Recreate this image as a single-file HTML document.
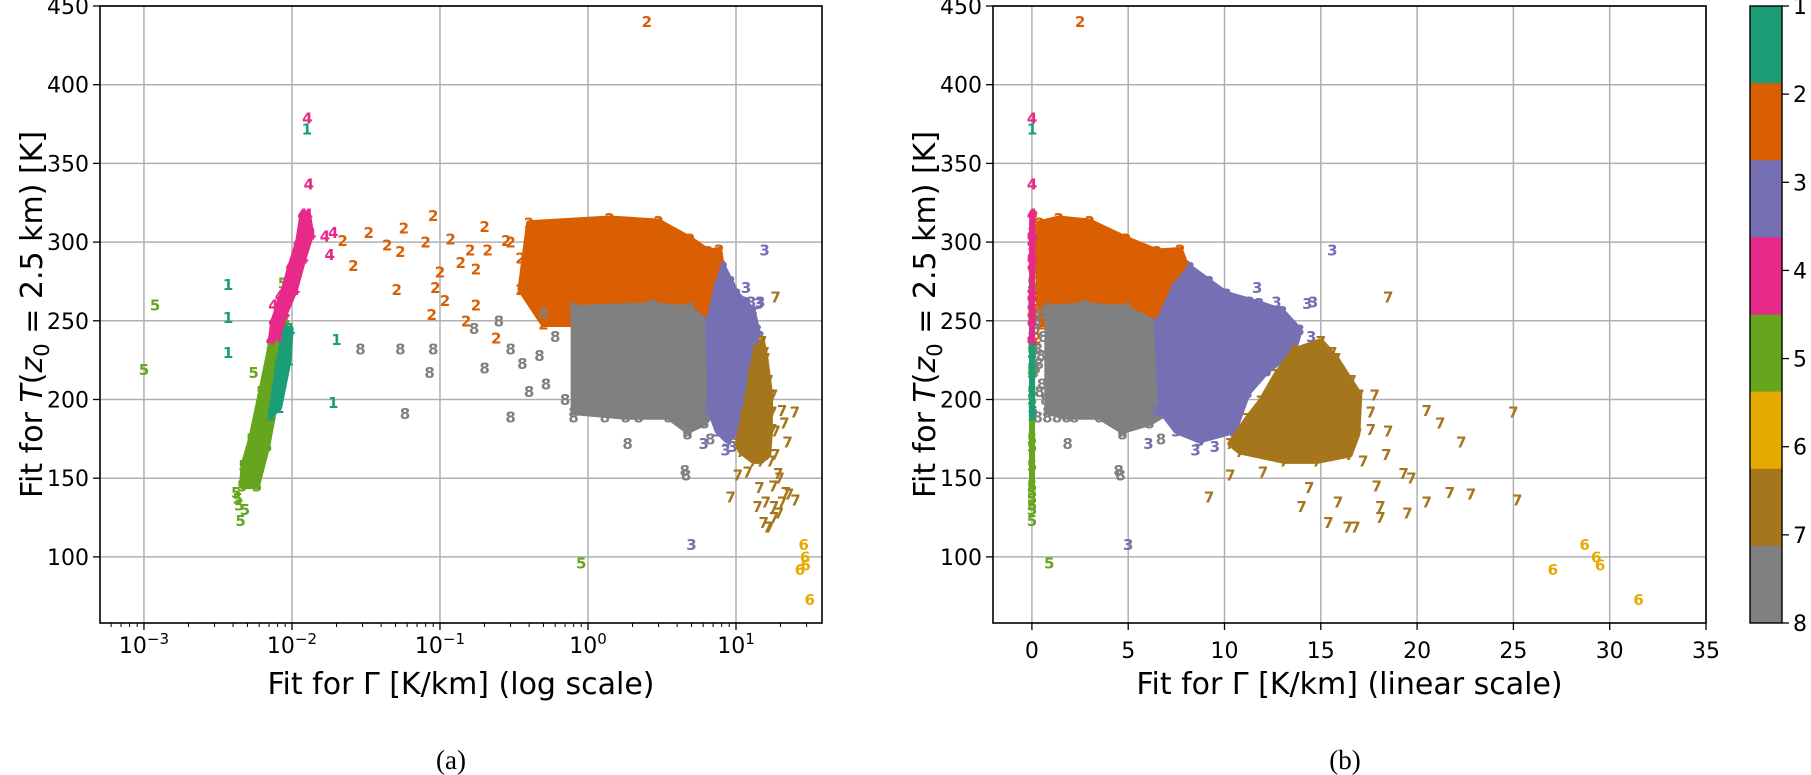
<!DOCTYPE html>
<html><head><meta charset="utf-8">
<style>
html,body{margin:0;padding:0;background:#fff;}
svg{display:block;font-family:"DejaVu Sans","Liberation Sans",sans-serif;}
.cap{font-family:"Liberation Serif",serif;}
</style></head>
<body>
<svg id="fig" width="1811" height="775" viewBox="0 0 1811 775" xmlns="http://www.w3.org/2000/svg">
<defs>
<clipPath id="clipL"><rect x="100" y="6" width="722" height="617"/></clipPath>
<clipPath id="clipR"><rect x="993" y="6" width="713" height="617"/></clipPath>
</defs>
</svg>
<script>
// ---- data ----
const clusterIds = [1,2,3,4,5,6,7,8];
const clusterColors = ['#1b9e77','#d95f02','#7570b3','#e7298a','#66a61e','#e6ab02','#a6761d','#808080'];
const yTicks = [100,150,200,250,300,350,400,450];
const xLinTicks = [0,5,10,15,20,25,30,35];
const xLogTicks = [-3,-2,-1,0,1];
const cbarTicks = [1,2,3,4,5,6,7,8];

// dense cluster outlines [Gamma, T]
const blob1 = [[0.0072,190],[0.0082,195],[0.0095,225],[0.0098,245],[0.009,245],[0.008,220]];
const blob2 = [[0.4,312],[1.4,315],[3.0,313],[4.9,302],[6.5,294],[7.7,295],[8.0,285],[7.4,271],[6.8,256],[6.5,248],[3.5,248],[0.5,248],[0.35,270]];
const blob3 = [[7.4,271],[8.2,284],[9.2,275],[10.1,267],[11.8,261],[13.0,256],[13.9,244],[13.6,231],[12.2,218],[11.2,204],[10.5,180],[8.7,174],[7.5,180],[6.7,193],[6.5,248]];
const blob4 = [[0.0118,318],[0.0128,318],[0.0135,305],[0.012,290],[0.0105,270],[0.009,255],[0.008,240],[0.0072,238],[0.0075,250],[0.0085,265],[0.0098,285],[0.011,300]];
const blob5 = [[0.0046,145],[0.0058,145],[0.0068,170],[0.0078,200],[0.0088,230],[0.009,250],[0.0082,255],[0.0072,235],[0.0062,205],[0.0053,175],[0.0047,158]];
const blob7 = [[13.6,231],[15,237],[15.8,226],[17,203],[16.9,178],[16.5,165],[14.8,161],[13.1,161],[10.8,167],[10.3,172],[11.2,188],[11.9,199],[12.7,216]];
const blob8 = [[0.8,258],[2.7,260],[4.9,258],[6.5,248],[7.0,223],[7.2,193],[6.1,185],[4.7,180],[3.5,189],[1.8,189],[0.8,192]];

// individual markers [Gamma, T]
const pts1 = [[0.0037,273],[0.0037,252],[0.0037,230],[0.020,238],[0.019,198],[0.0126,372]];
const pts2 = [[2.5,440],[0.022,301],[0.026,285],[0.033,306],[0.044,298],[0.051,270],[0.057,309],[0.09,317],[0.054,294],[0.08,300],[0.118,302],[0.1,281],[0.093,271],[0.108,263],[0.088,254],[0.138,287],[0.16,295],[0.175,283],[0.21,295],[0.28,301],[0.175,260],[0.24,239],[0.3,300],[0.2,310],[0.15,250],[0.35,290]];
const pts3 = [[15.6,295],[11.7,271],[14.6,262],[12.7,262],[14.3,261],[11.3,262],[6.4,193],[6.05,172],[8.5,168],[5,108],[9.5,170],[14.5,240]];
const pts4 = [[0.0127,379],[0.013,337],[0.019,306],[0.0167,304],[0.018,292],[0.0075,260],[0.0083,266]];
const pts5 = [[0.001,219],[0.00119,260],[0.0042,141],[0.0044,133],[0.0045,123],[0.0048,130],[0.0043,137],[0.0055,217],[0.0087,274],[0.9,96]];
const pts6 = [[27.05,92],[29.3,100],[29.5,95],[31.5,73],[28.7,108]];
const pts7 = [[18.5,265],[20.5,193],[21.2,185],[22.3,173],[25,192],[25.2,136],[22.8,140],[21.7,141],[20.5,135],[19.5,128],[18.1,132],[18.1,125],[15.9,135],[15.4,122],[16.4,119],[16.8,119],[14.0,132],[14.4,144],[9.2,138],[10.3,152],[12.0,154],[19.3,153],[19.7,150],[18.4,165],[18.5,180],[17.6,192],[17.8,203],[16.6,212],[15.6,230],[17.6,181],[17.2,161],[17.9,145]];
const pts8 = [[0.029,232],[0.054,232],[0.09,232],[0.085,217],[0.17,245],[0.058,191],[0.25,250],[0.36,223],[0.3,232],[0.47,228],[0.52,210],[0.9,213],[1.85,172],[4.6,152],[4.5,155],[6.7,175],[4.7,178],[0.3,189],[0.8,189],[1.3,189],[2.2,189],[0.4,205],[0.6,240],[0.2,220],[0.5,255],[0.7,200]];

const blobs = {1:blob1,2:blob2,3:blob3,4:blob4,5:blob5,6:[],7:blob7,8:blob8};
const pts = {1:pts1,2:pts2,3:pts3,4:pts4,5:pts5,6:pts6,7:pts7,8:pts8};
const drawOrder = [2,8,3,7,5,1,4,6];

// ---- axes ----
const TOP=6, BOT=623, YMIN=58, YMAX=450;
const yS = t => TOP + (YMAX-t)/(YMAX-YMIN)*(BOT-TOP);
const LX0=100, LX1=822, LMIN=-3.297, LMAX=1.581;
const xLog = g => LX0 + (Math.log10(g)-LMIN)/(LMAX-LMIN)*(LX1-LX0);
const RX0=993, RX1=1706, RMIN=-2.02, RMAX=35;
const xLin = g => RX0 + (g-RMIN)/(RMAX-RMIN)*(RX1-RX0);

const NS='http://www.w3.org/2000/svg';
const svg=document.getElementById('fig');
function mk(tag, attrs, parent){const e=document.createElementNS(NS,tag);for(const k in attrs)e.setAttribute(k,attrs[k]);(parent||svg).appendChild(e);return e;}

function marker(parent, x, y, c, col){
  const t=mk('text',{x:x,y:y+5.5,fill:col,'font-size':15,'font-weight':'bold','text-anchor':'middle'},parent);
  t.textContent=String(c);
  
  
}

function panel(id, x0, x1, xf, xticks, xtickLabel, clip, xlabel, caption, capX){
  const g=mk('g',{});
  
  
  const grid=mk('g',{stroke:'#b0b0b0','stroke-width':1.5},g);
  
  
  xticks.forEach(v=>{const x=xf(v);mk('line',{x1:x,x2:x,y1:TOP,y2:BOT},grid);});
  yTicks.forEach(v=>{const y=yS(v);mk('line',{x1:x0,x2:x1,y1:y,y2:y},grid);});
  const data=mk('g',{'clip-path':'url(#'+clip+')'},g);
  
  
  drawOrder.forEach(c=>{
    const col=clusterColors[c-1];
    const b=blobs[c];
    if(b.length){
      const p=mk('polygon',{points:b.map(d=>xf(d[0])+','+yS(d[1])).join(' '),fill:col,stroke:col,'stroke-width':6,'stroke-linejoin':'round'},data);
      
      
      b.forEach(d=>marker(data, xf(d[0]), yS(d[1]), c, col));
    }
    pts[c].forEach(d=>marker(data, xf(d[0]), yS(d[1]), c, col));
  });
  const sp=mk('rect',{x:x0,y:TOP,width:x1-x0,height:BOT-TOP,fill:'none',stroke:'#000','stroke-width':1.6},g);
  
  
  yTicks.forEach(v=>{const y=yS(v);
    mk('line',{x1:x0-7,x2:x0,y1:y,y2:y,stroke:'#000','stroke-width':1.3},g);
    const t=mk('text',{x:x0-11,y:y+8,'font-size':22,'text-anchor':'end',fill:'#000'},g);
    t.textContent=v;
    
    
  });
  xticks.forEach(v=>{const x=xf(v);
    mk('line',{x1:x,x2:x,y1:BOT,y2:BOT+7,stroke:'#000','stroke-width':1.3},g);
    xtickLabel(g,x,v);
  });
  const xl=mk('text',{x:(x0+x1)/2,y:694,'font-size':30,'text-anchor':'middle',fill:'#000'},g);
  xl.textContent=xlabel;
  
  
  const yl=mk('text',{transform:'translate('+(x0-58)+','+((TOP+BOT)/2)+') rotate(-90)','font-size':30,'text-anchor':'middle',fill:'#000'},g);
  yl.innerHTML='Fit for <tspan font-style="italic">T</tspan>(<tspan font-style="italic">z</tspan><tspan font-size="21" dy="7">0</tspan><tspan dy="-7"> = 2.5 km) [K]</tspan>';
  
  
  const cp=mk('text',{x:capX,y:769,'font-size':27,'text-anchor':'middle',fill:'#000',class:'cap'},g);
  cp.textContent=caption;
  
  
  return g;
}

panel('log', LX0, LX1, g=>xLog(g), xLogTicks.map(e=>Math.pow(10,e)), (g,x,v)=>{
  const t=mk('text',{x:x,y:653,'font-size':22,'text-anchor':'middle',fill:'#000'},g);
  const e=Math.round(Math.log10(v));
  t.innerHTML='10<tspan font-size="15" dy="-9">'+(e<0?'\u2212'+Math.abs(e):e)+'</tspan>';
  
  
}, 'clipL', 'Fit for \u0393 [K/km] (log scale)', '(a)', 451);
for(let e=-4;e<=1;e++){for(let m=2;m<=9;m++){const v=m*Math.pow(10,e);const x=xLog(v);if(x<LX0||x>LX1)continue;
  mk('line',{x1:x,x2:x,y1:BOT,y2:BOT+4,stroke:'#000','stroke-width':1});}}

panel('linear', RX0, RX1, g=>xLin(g), xLinTicks, (g,x,v)=>{
  const t=mk('text',{x:x,y:658,'font-size':22,'text-anchor':'middle',fill:'#000'},g);
  t.textContent=v;
  
  
}, 'clipR', 'Fit for \u0393 [K/km] (linear scale)', '(b)', 1345);

const CBX=1750, CBW=32;
const cb=mk('g',{});


const segH=(BOT-TOP)/clusterIds.length;
clusterIds.forEach((c,i)=>{
  const r=mk('rect',{x:CBX,y:TOP+i*segH,width:CBW,height:segH+0.5,fill:clusterColors[i]},cb);
  
  
});
mk('rect',{x:CBX,y:TOP,width:CBW,height:BOT-TOP,fill:'none',stroke:'#000','stroke-width':1.4},cb);
cbarTicks.forEach((v,i)=>{
  const y=TOP+i*(BOT-TOP)/(cbarTicks.length-1);
  mk('line',{x1:CBX+CBW,x2:CBX+CBW+7,y1:y,y2:y,stroke:'#000','stroke-width':1.3},cb);
  const t=mk('text',{x:CBX+CBW+11,y:y+8,'font-size':22,fill:'#000'},cb);
  t.textContent=v;
  
  
});
</script>
</body></html>
